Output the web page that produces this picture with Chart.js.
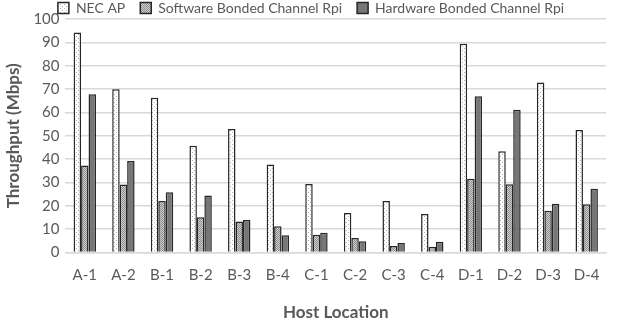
<!DOCTYPE html>
<html>
<head>
<meta charset="utf-8">
<script src="https://cdn.jsdelivr.net/npm/chart.js@4"></script>
<style>
  html, body { margin: 0; padding: 0; background: #fff; }
  #wrap { width: 624px; height: 323px; }
</style>
</head>
<body>
<div id="wrap"><canvas id="barCanvas" width="624" height="323"></canvas></div>
<script>
const locations = ["A-1", "A-2", "B-1", "B-2", "B-3", "B-4", "C-1", "C-2", "C-3", "C-4", "D-1", "D-2", "D-3", "D-4"];
const necAp = [94.2, 69.9, 66.3, 45.7, 52.9, 37.7, 29.4, 16.9, 22.1, 16.5, 89.4, 43.4, 72.8, 52.5];
const softwareRpi = [37.3, 29.1, 22.1, 15.1, 13.3, 11.3, 7.6, 6.3, 2.8, 2.5, 31.6, 29.3, 17.9, 20.7];
const hardwareRpi = [67.8, 39.2, 25.8, 24.4, 14.0, 7.4, 8.5, 4.9, 4.1, 4.6, 66.9, 61.2, 20.9, 27.3];

const FONT = "Lato, 'Open Sans', sans-serif";
const TEXT = "#595959";

function makePattern(bg, dot, cells) {
  const c = document.createElement("canvas");
  c.width = 4;
  c.height = 4;
  const g = c.getContext("2d");
  g.fillStyle = bg;
  g.fillRect(0, 0, 4, 4);
  g.fillStyle = dot;
  cells.forEach(([x, y]) => g.fillRect(x, y, 1, 1));
  return g.createPattern(c, "repeat");
}

const dotted = makePattern("#ffffff", "#b0b0b0", [[0, 0], [2, 2]]);
const checked = makePattern("#d0d0d0", "#8c8c8c", [[0, 0], [2, 0], [1, 1], [3, 1], [0, 2], [2, 2], [1, 3], [3, 3]]);

// pull the legend up close to the top edge (bottom kept so the clip box still holds the items)
const legendNudge = {
  id: "legendNudge",
  afterLayout(chart) {
    if (chart.legend) {
      chart.legend.top -= 14;
      chart.legend.left += 8;
      chart.legend.right += 8;
    }
  },
};

const data = {
  labels: locations,
  datasets: [
    {
      label: "NEC AP",
      data: necAp,
      backgroundColor: dotted,
      borderColor: "#262626",
      borderWidth: 1.5,
    },
    {
      label: "Software Bonded Channel Rpi",
      data: softwareRpi,
      backgroundColor: checked,
      borderColor: "#262626",
      borderWidth: 1.5,
    },
    {
      label: "Hardware Bonded Channel Rpi",
      data: hardwareRpi,
      backgroundColor: "#767676",
      borderColor: "#262626",
      borderWidth: 1.5,
    },
  ],
};

const config = {
  type: "bar",
  data: data,
  plugins: [legendNudge],
  options: {
    responsive: false,
    animation: false,
    layout: { padding: { left: 0, right: 18, top: 0, bottom: 0 } },
    datasets: {
      bar: { categoryPercentage: 0.58, barPercentage: 1.0 },
    },
    plugins: {
      legend: {
        position: "top",
        maxHeight: 19,
        labels: {
          boxWidth: 11,
          boxHeight: 11,
          padding: 15,
          color: TEXT,
          font: { family: FONT, size: 14 },
        },
      },
      tooltip: { enabled: false },
    },
    scales: {
      x: {
        grid: { display: false },
        border: { color: "#d9d9d9", width: 1.5 },
        ticks: { color: TEXT, font: { family: FONT, size: 15 }, padding: 6 },
        title: {
          display: true,
          text: "Host Location",
          color: TEXT,
          font: { family: FONT, size: 17, weight: "bold" },
          padding: { top: 12, bottom: 0 },
        },
      },
      y: {
        min: 0,
        max: 100,
        ticks: { stepSize: 10, autoSkip: false, color: TEXT, font: { family: FONT, size: 15 }, padding: 6 },
        grid: { color: "#d9d9d9", lineWidth: 1.5, drawTicks: false },
        border: { display: false },
        title: {
          display: true,
          text: "Throughput (Mbps)",
          color: TEXT,
          font: { family: FONT, size: 17, weight: "bold" },
          padding: { top: 3, bottom: 4 },
        },
      },
    },
  },
};

const canvas = document.getElementById("barCanvas");
if (canvas) {
  const ctx = canvas.getContext("2d");
  new Chart(ctx, config);
} else {
  console.error("Canvas not found!");
}
</script>
</body>
</html>
